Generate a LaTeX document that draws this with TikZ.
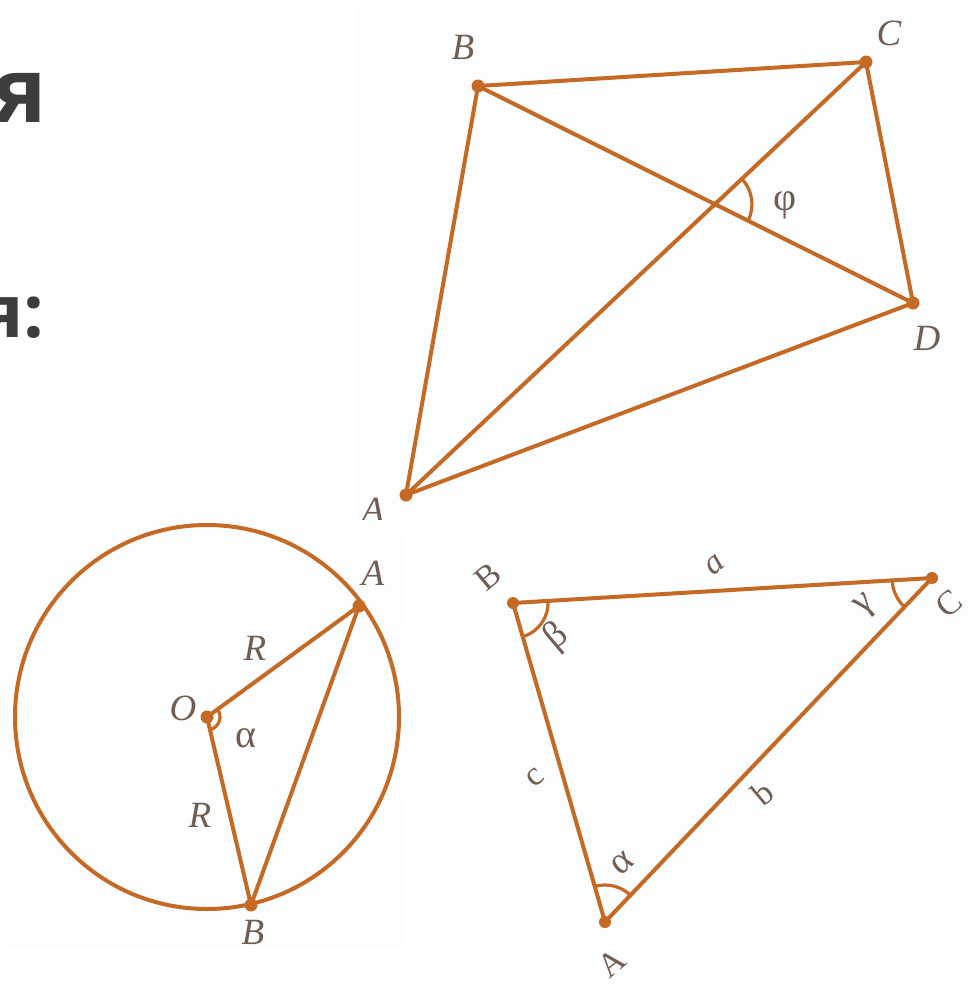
\documentclass[tikz,border=0pt]{standalone}
\usepackage{fontspec}
\setmainfont{Liberation Serif}
\newfontfamily\headfont{Open Sans}
\usetikzlibrary{calc}
\definecolor{ochre}{RGB}{196,106,36}
\definecolor{inkgrey}{RGB}{112,94,82}
\definecolor{paper}{RGB}{252,253,254}
\definecolor{slate}{RGB}{61,61,61}
\tikzset{
  edge/.style={draw=ochre,line width=4pt,line join=round},
  arcmark/.style={draw=ochre,line width=3.2pt},
  dot/.style={fill=ochre},
  lbl/.style={text=inkgrey,inner sep=0pt,font=\fontsize{37}{40}\selectfont\itshape},
  greek/.style={text=inkgrey,inner sep=0pt,font=\fontsize{40}{42}\selectfont},
  tlbl/.style={text=inkgrey,inner sep=0pt,rotate=40,font=\fontsize{34}{36}\selectfont},
  heading/.style={text=slate,inner sep=0pt,anchor=base east},
}

\begin{document}
\begin{tikzpicture}[x=1pt,y=1pt]
\useasboundingbox (0,0) rectangle (970,-986);

% what is left of the heading
\node[heading,font=\headfont\bfseries\fontsize{90}{92}\selectfont] (head1) at (47,-122) {я};
\node[heading,font=\headfont\bfseries\fontsize{73}{76}\selectfont] (head2) at (45,-337) {я:};

% quadrilateral with its diagonals
\fill[paper] (355,-7) rectangle (970,-530);
\coordinate (qA) at (406,-495);
\coordinate (qB) at (478,-86);
\coordinate (qC) at (866,-62);
\coordinate (qD) at (913,-303);
\draw[edge] (qA) -- (qB) -- (qC) -- (qD) -- cycle;
\draw[edge] (qA) -- (qC);
\draw[edge] (qB) -- (qD);
\coordinate (qX) at (intersection of qA--qC and qB--qD);
\draw[arcmark] (qX) ++(-26.5:37) arc[start angle=-26.5,end angle=43.3,radius=37];
\foreach \p in {qA,qB,qC,qD} \fill[dot] (\p) circle (6.5);
\node[lbl] (lqB) at (463,-47) {B};
\node[lbl] (lqC) at (889,-33) {C};
\node[lbl] (lqD) at (927,-338) {D};
\node[lbl] (lqA) at (373,-510) {A};
\node[greek] (lphi) at (785,-205) {φ};

% circle with a chord
\fill[paper] (7,-520) rectangle (403,-948);
\coordinate (cO) at (207,-717);
\coordinate (cA) at (359,-606);
\coordinate (cB) at (251,-905);
\draw[edge] (cO) circle (192);
\draw[edge] (cA) -- (cO) -- (cB) -- cycle;
\draw[arcmark] (cO) ++(-76.8:13) arc[start angle=-76.8,end angle=36.1,radius=13];
\foreach \p in {cO,cA,cB} \fill[dot] (\p) circle (6.5);
\node[lbl] (lcO) at (183,-708) {O};
\node[lbl] (lcA) at (373,-573) {A};
\node[lbl] (lcB) at (253,-932) {B};
\node[lbl] (lcR1) at (255,-648) {R};
\node[lbl] (lcR2) at (200,-815) {R};
\node[greek] (lcal) at (246,-738) {α};

% triangle, turned on the page
\fill[paper] (503,-530) -- (970,-530) -- (970,-620) -- (604,-986) -- (596,-986)
  -- (403,-793) -- (403,-630) -- cycle;
\coordinate (tA) at (605,-922);
\coordinate (tB) at (513,-603);
\coordinate (tC) at (932,-578);
\draw[edge] (tA) -- (tB) -- (tC) -- cycle;
\draw[arcmark] (tB) ++(-73.9:35) arc[start angle=-73.9,end angle=3.4,radius=35];
\draw[arcmark] (tC) ++(183.4:40) arc[start angle=183.4,end angle=226.4,radius=40];
\draw[arcmark] (tA) ++(46.4:37) arc[start angle=46.4,end angle=106.1,radius=37];
\foreach \p in {tA,tB,tC} \fill[dot] (\p) circle (6);
\node[tlbl] (ltB) at (488,-577) {B};
\node[tlbl] (ltC) at (949,-604) {C};
\node[tlbl] (ltA) at (612,-963) {A};
\node[tlbl,font=\fontsize{34}{36}\selectfont\itshape] (lta) at (715,-565) {a};
\node[tlbl] (ltc) at (535,-778) {c};
\node[tlbl] (ltb) at (763,-793) {b};
\node[tlbl,font=\fontsize{38}{40}\selectfont] (ltbe) at (557,-637) {β};
\node[tlbl,font=\fontsize{38}{40}\selectfont] (ltga) at (866,-607) {γ};
\node[tlbl,font=\fontsize{38}{40}\selectfont] (ltal) at (622,-863) {α};
\end{tikzpicture}
\end{document}
